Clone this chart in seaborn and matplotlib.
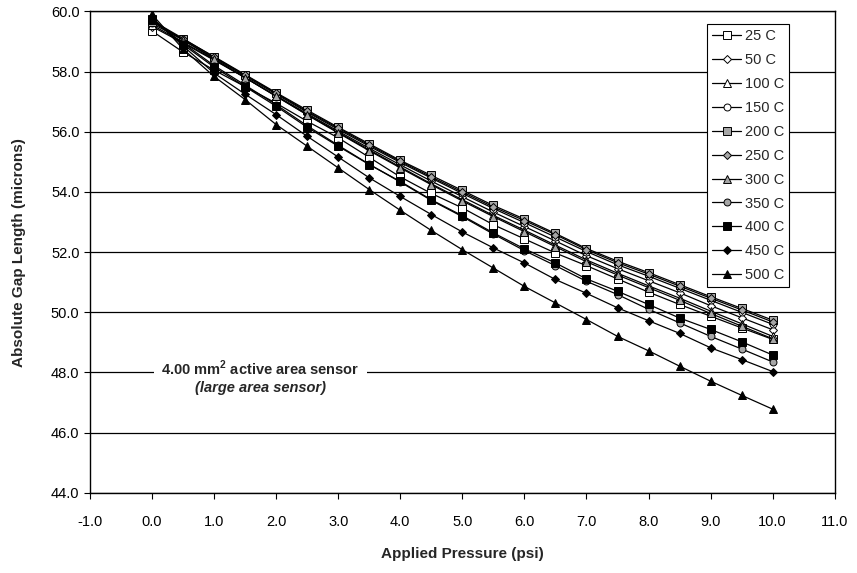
"""Absolute gap length vs applied pressure for a 4.00 mm^2 sensor at several temperatures."""

import numpy as np
import pandas as pd
import seaborn as sns
import matplotlib.pyplot as plt

# Applied pressure (psi)
pressure = [0.0, 0.5, 1.0, 1.5, 2.0, 2.5, 3.0, 3.5, 4.0, 4.5, 5.0,
            5.5, 6.0, 6.5, 7.0, 7.5, 8.0, 8.5, 9.0, 9.5, 10.0]

# Absolute gap length (microns), one list per temperature
gap_25 = [59.35, 58.65, 58.05, 57.50, 56.95, 56.35, 55.80, 55.15, 54.50, 53.95, 53.47,
          52.91, 52.44, 51.97, 51.55, 51.11, 50.67, 50.26, 49.87, 49.48, 49.10]
gap_50 = [59.50, 58.95, 58.38, 57.80, 57.20, 56.60, 56.02, 55.45, 54.90, 54.36, 53.84,
          53.33, 52.85, 52.37, 51.88, 51.45, 51.05, 50.65, 50.22, 49.82, 49.42]
gap_100 = [59.55, 58.98, 58.40, 57.80, 57.18, 56.57, 55.98, 55.40, 54.83, 54.27, 53.74,
           53.22, 52.73, 52.23, 51.74, 51.30, 50.88, 50.47, 50.04, 49.62, 49.20]
gap_150 = [59.60, 59.05, 58.45, 57.85, 57.25, 56.65, 56.08, 55.52, 54.98, 54.46, 53.95,
           53.45, 52.98, 52.50, 52.02, 51.58, 51.20, 50.80, 50.40, 50.00, 49.60]
gap_200 = [59.65, 59.08, 58.50, 57.90, 57.30, 56.72, 56.15, 55.60, 55.05, 54.55, 54.05,
           53.55, 53.10, 52.62, 52.12, 51.70, 51.32, 50.92, 50.52, 50.13, 49.74]
gap_250 = [59.70, 59.10, 58.48, 57.88, 57.28, 56.68, 56.12, 55.56, 55.02, 54.50, 54.00,
           53.50, 53.05, 52.58, 52.08, 51.65, 51.27, 50.87, 50.47, 50.08, 49.68]
gap_300 = [59.70, 59.05, 58.42, 57.80, 57.18, 56.56, 55.96, 55.37, 54.80, 54.24, 53.70,
           53.18, 52.68, 52.18, 51.68, 51.24, 50.82, 50.40, 49.96, 49.54, 49.12]
gap_350 = [59.70, 58.95, 58.20, 57.55, 56.90, 56.20, 55.55, 54.92, 54.33, 53.72, 53.18,
           52.60, 52.05, 51.55, 51.03, 50.59, 50.10, 49.65, 49.20, 48.78, 48.35]
gap_400 = [59.75, 58.90, 58.15, 57.50, 56.85, 56.15, 55.52, 54.91, 54.35, 53.74, 53.21,
           52.64, 52.11, 51.64, 51.11, 50.70, 50.26, 49.81, 49.43, 49.02, 48.58]
gap_450 = [59.80, 58.85, 57.95, 57.25, 56.57, 55.85, 55.16, 54.47, 53.85, 53.25, 52.67,
           52.14, 51.64, 51.09, 50.63, 50.15, 49.72, 49.30, 48.82, 48.43, 48.03]
gap_500 = [59.90, 58.75, 57.84, 57.07, 56.24, 55.52, 54.80, 54.08, 53.39, 52.72, 52.08,
           51.47, 50.86, 50.31, 49.76, 49.20, 48.72, 48.21, 47.71, 47.24, 46.78]

labels = ["25 C", "50 C", "100 C", "150 C", "200 C", "250 C",
          "300 C", "350 C", "400 C", "450 C", "500 C"]
series = [gap_25, gap_50, gap_100, gap_150, gap_200, gap_250,
          gap_300, gap_350, gap_400, gap_450, gap_500]

# Excel-style marker set: white, gray, black fills
markers = ["s", "D", "^", "o", "s", "D", "^", "o", "s", "D", "^"]
fills = ["white"] * 4 + ["#a6a6a6"] * 4 + ["black"] * 3
sizes = [5.5, 4.0, 5.5, 5.0, 5.5, 4.0, 5.5, 5.0, 5.5, 4.0, 5.5]

sns.set_style("white")
plt.rcParams["font.family"] = ["Liberation Sans", "DejaVu Sans"]
plt.rcParams["mathtext.fontset"] = "custom"
plt.rcParams["mathtext.rm"] = "Liberation Sans"
plt.rcParams["mathtext.bf"] = "Liberation Sans:bold"

fig, ax = plt.subplots(figsize=(8.57, 5.73), dpi=100)
fig.subplots_adjust(left=0.105, right=0.974, top=0.980, bottom=0.140)

for label, values, marker, fill, size in zip(labels, series, markers, fills, sizes):
    df = pd.DataFrame({"pressure": pressure, "gap": values})
    sns.lineplot(data=df, x="pressure", y="gap", ax=ax, color="black", linewidth=0.9,
                 marker=marker, markersize=size, markerfacecolor=fill,
                 markeredgecolor="black", markeredgewidth=0.7, label=label, zorder=3)

ax.set_xlim(-1, 11)
ax.set_ylim(44, 60)
ax.set_xticks(np.arange(-1, 12, 1))
ax.set_yticks(np.arange(44, 61, 2))
ax.set_xticklabels([f"{t:.1f}" for t in np.arange(-1, 12, 1)])
ax.set_yticklabels([f"{t:.1f}" for t in np.arange(44, 61, 2)])
ax.tick_params(axis="both", direction="out", length=4, width=0.8, labelsize=10.5,
               colors="black", bottom=True, left=True)
ax.tick_params(axis="x", pad=12)
ax.yaxis.grid(True, color="black", linewidth=0.9)
ax.set_axisbelow(True)
for spine in ax.spines.values():
    spine.set_color("black")
    spine.set_linewidth(1.0)

ax.set_xlabel("Applied Pressure (psi)", fontsize=11, fontweight="bold", labelpad=13)
ax.set_ylabel("Absolute Gap Length (microns)", fontsize=11, fontweight="bold", labelpad=18)

box = dict(facecolor="white", edgecolor="none", pad=5)
ax.text(1.75, 48.13, r"4.00 mm$^{\mathbf{2}}$ active area sensor", ha="center", va="center",
        fontsize=10.5, fontweight="bold", bbox=box, zorder=2)
ax.text(1.75, 47.47, "(large area sensor)", ha="center", va="center",
        fontsize=10.5, fontweight="bold", style="italic", zorder=2)

leg = ax.legend(loc="upper left", bbox_to_anchor=(707 / 857, 1 - 24 / 573),
                bbox_transform=fig.transFigure, borderaxespad=0, frameon=True,
                fancybox=False, edgecolor="black", framealpha=1, fontsize=10.5,
                handlelength=2.0, handletextpad=0.25, labelspacing=0.68,
                borderpad=0.35)
leg.get_frame().set_linewidth(0.8)

fig.savefig("out.png", dpi=100)
